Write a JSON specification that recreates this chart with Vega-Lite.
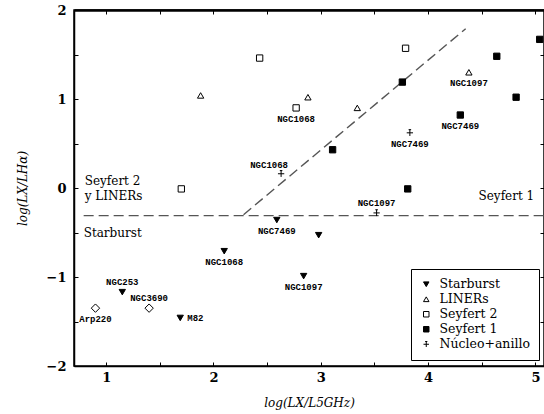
{
  "$schema": "https://vega.github.io/schema/vega-lite/v6.json",
  "width": 470,
  "height": 356,
  "autosize": {"type": "none"},
  "padding": {"left": 74, "top": 10, "right": 0, "bottom": 48},
  "background": "white",
  "config": {
    "view": {"stroke": "black", "strokeWidth": 1.5},
    "axis": {"grid": false, "domainColor": "black", "tickColor": "black", "labelColor": "black", "titleColor": "black"}
  },
  "datasets": {
    "pts": [
      {"x": 2.10, "y": -0.71, "type": "Starburst", "name": "NGC1068"},
      {"x": 1.15, "y": -1.17, "type": "Starburst", "name": "NGC253"},
      {"x": 1.69, "y": -1.46, "type": "Starburst", "name": "M82"},
      {"x": 2.59, "y": -0.36, "type": "Starburst", "name": "NGC7469"},
      {"x": 2.98, "y": -0.53, "type": "Starburst", "name": ""},
      {"x": 2.84, "y": -0.99, "type": "Starburst", "name": "NGC1097"},
      {"x": 0.90, "y": -1.35, "type": "ULIRG", "name": "Arp220"},
      {"x": 1.40, "y": -1.35, "type": "ULIRG", "name": "NGC3690"},
      {"x": 1.88, "y": 1.04, "type": "LINERs", "name": ""},
      {"x": 2.88, "y": 1.02, "type": "LINERs", "name": ""},
      {"x": 3.34, "y": 0.90, "type": "LINERs", "name": ""},
      {"x": 4.38, "y": 1.30, "type": "LINERs", "name": "NGC1097"},
      {"x": 1.70, "y": -0.01, "type": "Seyfert 2", "name": ""},
      {"x": 2.43, "y": 1.46, "type": "Seyfert 2", "name": ""},
      {"x": 2.77, "y": 0.90, "type": "Seyfert 2", "name": "NGC1068"},
      {"x": 3.79, "y": 1.57, "type": "Seyfert 2", "name": ""},
      {"x": 5.04, "y": 1.67, "type": "Seyfert 1", "name": ""},
      {"x": 4.64, "y": 1.48, "type": "Seyfert 1", "name": ""},
      {"x": 3.76, "y": 1.19, "type": "Seyfert 1", "name": ""},
      {"x": 4.82, "y": 1.02, "type": "Seyfert 1", "name": ""},
      {"x": 4.30, "y": 0.82, "type": "Seyfert 1", "name": "NGC7469"},
      {"x": 3.11, "y": 0.43, "type": "Seyfert 1", "name": ""},
      {"x": 3.81, "y": -0.01, "type": "Seyfert 1", "name": ""},
      {"x": 2.63, "y": 0.16, "type": "Núcleo+anillo", "name": "NGC1068"},
      {"x": 3.83, "y": 0.62, "type": "Núcleo+anillo", "name": "NGC7469"},
      {"x": 3.52, "y": -0.28, "type": "Núcleo+anillo", "name": "NGC1097"}
    ],
    "lines": [
      {"x": 0.79, "y": -0.31, "x2": 5.08, "y2": -0.31},
      {"x": 2.28, "y": -0.30, "x2": 4.35, "y2": 1.79}
    ],
    "notes": [
      {"x": 0.80, "y": 0.08, "text": "Seyfert 2"},
      {"x": 0.80, "y": -0.09, "text": "y LINERs"},
      {"x": 0.79, "y": -0.51, "text": "Starburst"},
      {"x": 4.47, "y": -0.09, "text": "Seyfert 1"}
    ]
  },
  "encoding": {
    "x": {"field": "x", "type": "quantitative", "scale": {"domain": [0.7, 5.08], "nice": false, "zero": false}, "axis": null},
    "y": {"field": "y", "type": "quantitative", "scale": {"domain": [-2, 2], "nice": false, "zero": false}, "axis": null}
  },
  "layer": [
    {
      "data": {"name": "lines"},
      "mark": {"type": "rule", "strokeDash": [10, 5], "color": "#555555", "strokeWidth": 1.4},
      "encoding": {
        "x": {"field": "x", "type": "quantitative", "scale": {"domain": [0.7, 5.08], "nice": false, "zero": false},
          "axis": {"orient": "top", "values": [1, 1.5, 2, 2.5, 3, 3.5, 4, 4.5, 5], "labels": false, "tickSize": -4, "domainWidth": 2.5, "title": null}},
        "y": {"field": "y", "type": "quantitative", "scale": {"domain": [-2, 2], "nice": false, "zero": false},
          "axis": {"orient": "right", "values": [-2, -1.5, -1, -0.5, 0, 0.5, 1, 1.5, 2], "labels": false, "tickSize": -4, "title": null}},
        "x2": {"field": "x2"},
        "y2": {"field": "y2"}
      }
    },
    {
      "data": {"name": "notes"},
      "mark": {"type": "text", "align": "left", "baseline": "middle", "font": "DejaVu Serif", "fontSize": 12, "color": "black"},
      "encoding": {"text": {"field": "text"}}
    },
    {
      "data": {"name": "pts"},
      "transform": [{"filter": "datum.type == 'ULIRG'"}],
      "mark": {"type": "point", "shape": "diamond", "size": 70, "stroke": "black", "strokeWidth": 1, "fill": "white", "opacity": 1}
    },
    {
      "data": {"name": "pts"},
      "transform": [{"filter": "datum.type != 'ULIRG'"}],
      "mark": {"type": "point", "size": 40, "strokeWidth": 1, "opacity": 1},
      "encoding": {
        "x": {"field": "x", "type": "quantitative", "scale": {"domain": [0.7, 5.08], "nice": false, "zero": false},
          "axis": {"orient": "bottom", "values": [1, 1.5, 2, 2.5, 3, 3.5, 4, 4.5, 5], "labelExpr": "datum.value % 1 == 0 ? format(datum.value, 'd') : ''", "tickSize": -4, "labelPadding": 9, "labelOverlap": false, "labelFlush": false, "domainWidth": 1.5,
            "labelFont": "DejaVu Serif", "labelFontWeight": "bold", "labelFontSize": 13,
            "title": "log(LX/L5GHz)", "titleFont": "DejaVu Serif", "titleFontStyle": "italic", "titleFontWeight": "normal", "titleFontSize": 12, "titlePadding": 13}},
        "y": {"field": "y", "type": "quantitative", "scale": {"domain": [-2, 2], "nice": false, "zero": false},
          "axis": {"orient": "left", "values": [-2, -1.5, -1, -0.5, 0, 0.5, 1, 1.5, 2], "labelExpr": "datum.value % 1 == 0 ? format(datum.value, 'd') : ''", "tickSize": -4, "labelPadding": 12, "labelOverlap": false, "labelFlush": false, "domainWidth": 1.5,
            "labelFont": "DejaVu Serif", "labelFontWeight": "bold", "labelFontSize": 13,
            "title": "log(LX/LHα)", "titleFont": "DejaVu Serif", "titleFontStyle": "italic", "titleFontWeight": "normal", "titleFontSize": 12, "titlePadding": 17}},
        "shape": {"field": "type", "type": "nominal",
          "scale": {"domain": ["Starburst", "LINERs", "Seyfert 2", "Seyfert 1", "Núcleo+anillo"],
            "range": ["triangle-down", "triangle-up", "square", "square", "M-1,0L1,0M0,-1L0,1M-0.4,-1L0.4,-1"]},
          "legend": {"title": null, "orient": "none", "legendX": 337, "legendY": 259, "strokeColor": "black", "fillColor": "white", "padding": 9, "labelOffset": 7, "labelFont": "DejaVu Serif", "labelFontSize": 12.5, "labelColor": "black", "symbolStrokeWidth": 1, "symbolSize": 30, "rowPadding": 2}},
        "fill": {"field": "type", "type": "nominal",
          "scale": {"domain": ["Starburst", "LINERs", "Seyfert 2", "Seyfert 1", "Núcleo+anillo"],
            "range": ["black", "white", "white", "black", "transparent"]},
          "legend": {"title": null, "orient": "none", "legendX": 337, "legendY": 259, "strokeColor": "black", "fillColor": "white", "padding": 9, "labelOffset": 7, "labelFont": "DejaVu Serif", "labelFontSize": 12.5, "labelColor": "black", "symbolStrokeWidth": 1, "symbolSize": 30, "rowPadding": 2}},
        "stroke": {"field": "type", "type": "nominal",
          "scale": {"domain": ["Starburst", "LINERs", "Seyfert 2", "Seyfert 1", "Núcleo+anillo"],
            "range": ["black", "black", "black", "black", "black"]},
          "legend": {"title": null, "orient": "none", "legendX": 337, "legendY": 259, "strokeColor": "black", "fillColor": "white", "padding": 9, "labelOffset": 7, "labelFont": "DejaVu Serif", "labelFontSize": 12.5, "labelColor": "black", "symbolStrokeWidth": 1, "symbolSize": 30, "rowPadding": 2}}
      }
    },
    {
      "data": {"name": "pts"},
      "transform": [{"filter": "indexof(['Starburst|NGC1068','ULIRG|Arp220','Starburst|NGC7469','Starburst|NGC1097','Núcleo+anillo|NGC7469','Seyfert 2|NGC1068','Seyfert 1|NGC7469','LINERs|NGC1097'], datum.type + '|' + datum.name) >= 0"}],
      "mark": {"type": "text", "dy": 11, "font": "Liberation Mono", "fontWeight": "bold", "fontSize": 9, "color": "black"},
      "encoding": {"text": {"field": "name"}}
    },
    {
      "data": {"name": "pts"},
      "transform": [{"filter": "indexof(['Starburst|NGC253','ULIRG|NGC3690','Núcleo+anillo|NGC1097'], datum.type + '|' + datum.name) >= 0"}],
      "mark": {"type": "text", "dy": -10, "font": "Liberation Mono", "fontWeight": "bold", "fontSize": 9, "color": "black"},
      "encoding": {"text": {"field": "name"}}
    },
    {
      "data": {"name": "pts"},
      "transform": [{"filter": "datum.type == 'Núcleo+anillo' && datum.name == 'NGC1068'"}],
      "mark": {"type": "text", "dy": -9, "dx": -12, "font": "Liberation Mono", "fontWeight": "bold", "fontSize": 9, "color": "black"},
      "encoding": {"text": {"field": "name"}}
    },
    {
      "data": {"name": "pts"},
      "transform": [{"filter": "datum.type == 'Starburst' && datum.name == 'M82'"}],
      "mark": {"type": "text", "align": "left", "dx": 7, "font": "Liberation Mono", "fontWeight": "bold", "fontSize": 9, "color": "black"},
      "encoding": {"text": {"field": "name"}}
    }
  ],
  "resolve": {"axis": {"x": "independent", "y": "independent"}}
}
